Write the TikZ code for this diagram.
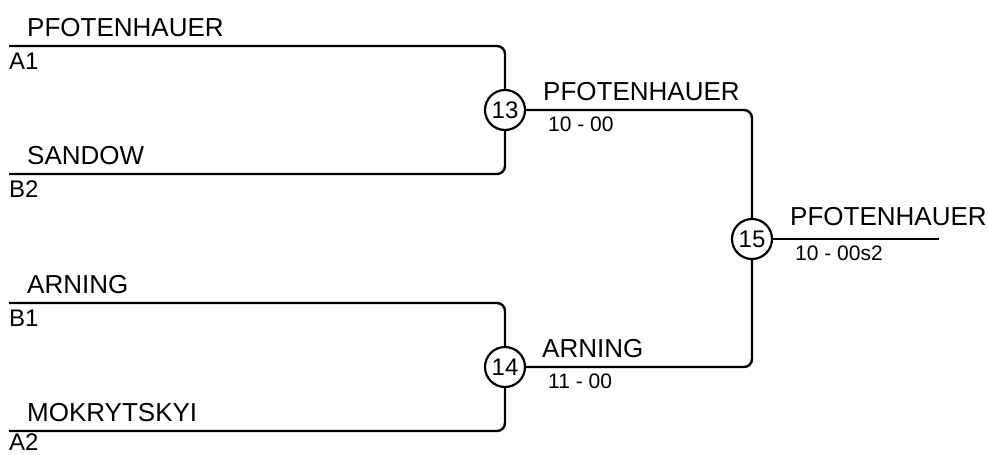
\documentclass[tikz,border=0pt]{standalone}
\usepackage{fontspec}
\setmainfont{Liberation Sans}
\usetikzlibrary{positioning}
\tikzset{
    bareL/.style={line width=2.4pt, rounded corners=8pt},
    matchC/.style={draw, circle, line width=2.2pt, minimum size=40pt, inner sep=0pt, font=\fontsize{24}{24}\selectfont},
    nameT/.style={inner sep=0pt, anchor=base west, font=\fontsize{26}{26}\selectfont},
    seedT/.style={inner sep=0pt, anchor=base west, font=\fontsize{24}{24}\selectfont},
    scoreT/.style={inner sep=0pt, anchor=base west, font=\fontsize{21}{21}\selectfont}
}

\begin{document}
\begin{tikzpicture}[x=1pt, y=-1pt]
    \useasboundingbox (0,0) rectangle (988,455);
    % entry lines
    \coordinate (a1) at (9, 46);
    \coordinate (b2) at (9, 174);
    \coordinate (b1) at (9, 303);
    \coordinate (a2) at (9, 431);
    \coordinate (w15) at (939, 239);
    % matches
    \node[matchC] (m13) at (505, 110) {13};
    \node[matchC] (m14) at (505, 367) {14};
    \node[matchC] (m15) at (752, 239) {15};
    \draw[bareL] (a1) -| (m13);
    \draw[bareL] (b2) -| (m13);
    \draw[bareL] (b1) -| (m14);
    \draw[bareL] (a2) -| (m14);
    \draw[bareL] (m13) -| (m15);
    \draw[bareL] (m14) -| (m15);
    \draw[bareL] (m15) -- (w15);
    % players
    \node[nameT] (p1) at (27, 36) {PFOTENHAUER};
    \node[seedT] (s1) at (9, 69) {A1};
    \node[nameT] (p2) at (27, 164) {SANDOW};
    \node[seedT] (s2) at (9, 197) {B2};
    \node[nameT] (p3) at (27, 293) {ARNING};
    \node[seedT] (s3) at (9, 326) {B1};
    \node[nameT] (p4) at (27, 421) {MOKRYTSKYI};
    \node[seedT] (s4) at (9, 450) {A2};
    % winners
    \node[nameT] (w1) at (543, 100) {PFOTENHAUER};
    \node[scoreT] (r1) at (548, 131) {10 - 00};
    \node[nameT] (w2) at (542, 357) {ARNING};
    \node[scoreT] (r2) at (548, 388) {11 - 00};
    \node[nameT] (w3) at (790, 225) {PFOTENHAUER};
    \node[scoreT] (r3) at (795, 260) {10 - 00s2};
\end{tikzpicture}
\end{document}
